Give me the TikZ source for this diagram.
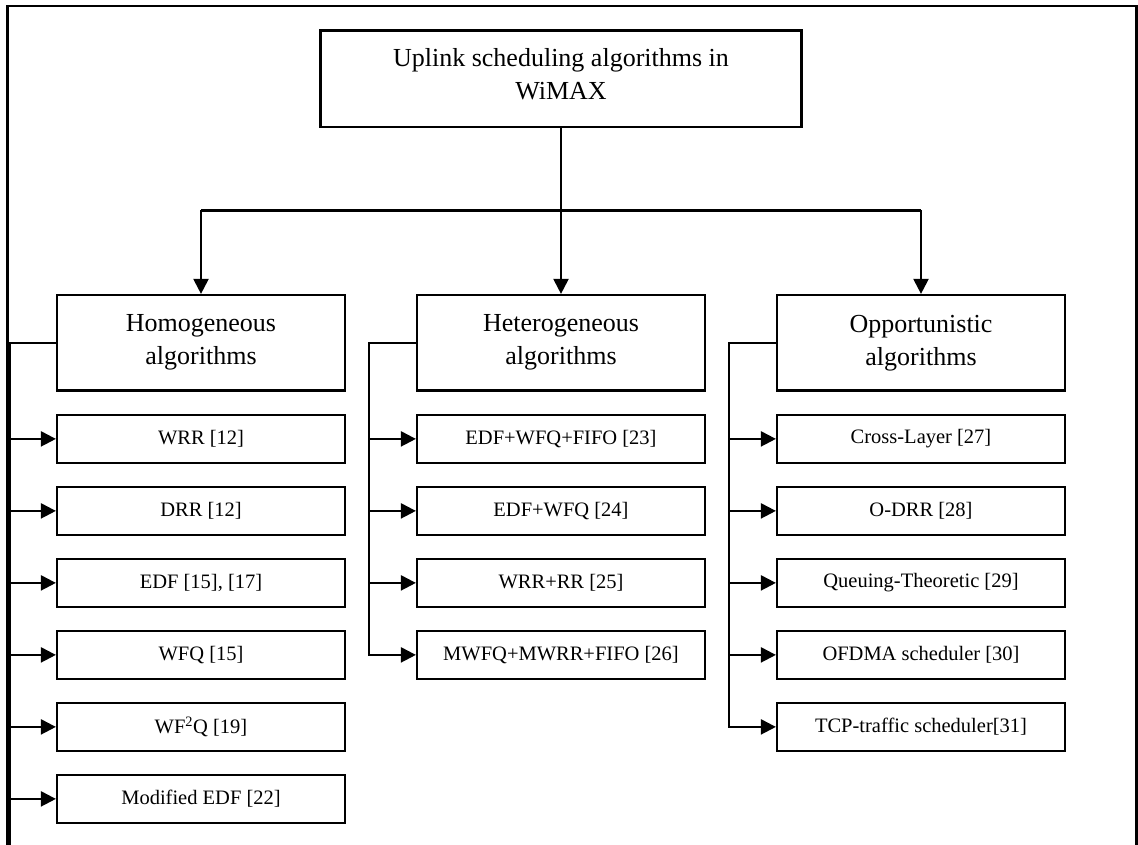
\documentclass[tikz,border=0pt]{standalone}
\usepackage{fontspec}
\setmainfont{Liberation Serif}
\usetikzlibrary{arrows.meta}
\begin{document}
\begin{tikzpicture}[x=1pt,y=-1pt,
  every path/.style={line width=2.2pt},
  bigbox/.style={draw, line width=2.2pt, minimum width=288pt, minimum height=95.5pt, align=center, inner sep=0pt,
     font=\fontsize{26}{33}\selectfont},
  smallbox/.style={draw, line width=2.2pt, minimum width=288pt, minimum height=47.7pt, inner sep=0pt,
     font=\fontsize{20.5}{24}\selectfont},
  arr/.style={-{Triangle[length=15pt,width=15pt]}, line width=2.2pt}]
\useasboundingbox (0,0) rectangle (1138,845);
% outer frame (open at the bottom)
\draw[line width=2.2pt] (7.5,860) -- (7.5,6) -- (1136.5,6) -- (1136.5,860);
% root
\node[draw, line width=2.2pt, minimum width=481pt, minimum height=96.5pt, inner sep=0pt] (root) at (561,78.75) {};
\node[align=center, inner sep=0pt, font=\fontsize{26}{33}\selectfont] (roottxt) at (561,74) {Uplink scheduling algorithms in\\WiMAX};
% level 2
\node[bigbox] (hom) at (201,342.75) {Homogeneous\\algorithms};
\node[bigbox] (het) at (561,342.75) {Heterogeneous\\algorithms};
\node[bigbox] (opp) at (921,342.75) {Opportunistic\\algorithms};
% bus
\coordinate (bus) at (561,210.5);
\draw[line width=2.2pt] (root.south) -- (bus);
\draw[line width=2.2pt] (hom.north |- bus) -- (opp.north |- bus);
\draw[arr] (hom.north |- bus) -- (hom.north);
\draw[arr] (het.north |- bus) -- (het.north);
\draw[arr] (opp.north |- bus) -- (opp.north);
% homogeneous children
\node[smallbox] (h1) at (201,438.9) {WRR [12]};
\node[smallbox] (h2) at (201,510.9) {DRR [12]};
\node[smallbox] (h3) at (201,582.9) {EDF [15], [17]};
\node[smallbox] (h4) at (201,654.9) {WFQ [15]};
\node[smallbox] (h5) at (201,726.9) {WF\textsuperscript{2}Q [19]};
\node[smallbox] (h6) at (201,798.9) {Modified EDF [22]};
\coordinate (ht) at (9.5,342.75);
\draw[line width=2.2pt] (hom.west) -- (ht) -- (9.5,860);
\foreach \n in {h1,h2,h3,h4,h5,h6} \draw[arr] (ht |- \n.west) -- (\n.west);
% heterogeneous children
\node[smallbox] (e1) at (561,438.9) {EDF+WFQ+FIFO [23]};
\node[smallbox] (e2) at (561,510.9) {EDF+WFQ [24]};
\node[smallbox] (e3) at (561,582.9) {WRR+RR [25]};
\node[smallbox] (e4) at (561,654.9) {MWFQ+MWRR+FIFO [26]};
\coordinate (et) at (369.3,342.75);
\draw[arr] (het.west) -- (et) |- (e4.west);
\foreach \n in {e1,e2,e3} \draw[arr] (et |- \n.west) -- (\n.west);
% opportunistic children
\node[smallbox] (o1) at (921,438.9) {Cross-Layer [27]};
\node[smallbox] (o2) at (921,510.9) {O-DRR [28]};
\node[smallbox] (o3) at (921,582.9) {Queuing-Theoretic [29]};
\node[smallbox] (o4) at (921,654.9) {OFDMA scheduler [30]};
\node[smallbox] (o5) at (921,726.9) {TCP-traffic scheduler[31]};
\coordinate (ot) at (729.3,342.75);
\draw[arr] (opp.west) -- (ot) |- (o5.west);
\foreach \n in {o1,o2,o3,o4} \draw[arr] (ot |- \n.west) -- (\n.west);
\end{tikzpicture}
\end{document}
